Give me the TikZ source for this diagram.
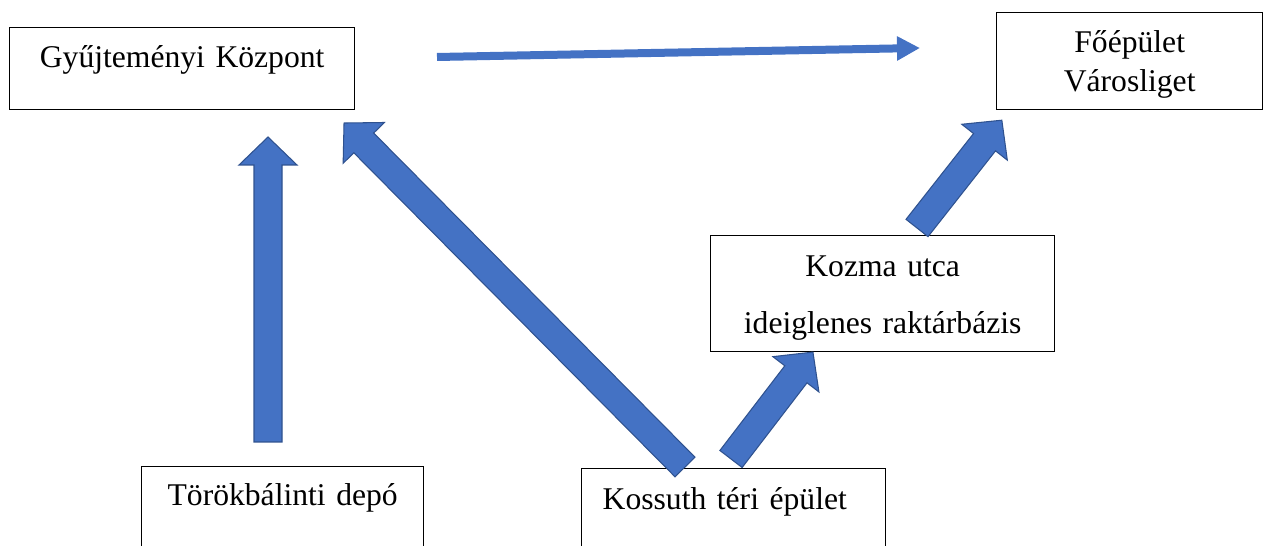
\documentclass[tikz,border=0pt]{standalone}
\usepackage{fontspec}
\setmainfont{Liberation Serif}
\usepackage{tikz}
\usetikzlibrary{arrows.meta,calc}
\definecolor{arrowblue}{HTML}{4472C4}
\definecolor{arrowedge}{HTML}{2F528F}
\tikzset{
  box/.style={draw, line width=0.8pt, inner sep=0pt, anchor=north west, align=center, font=\fontsize{18}{22}\selectfont},
  blockarrow/.style={fill=arrowblue, draw=arrowedge, line width=0.6pt, line join=miter},
  thinarrow/.style={draw=arrowblue, line width=0.16cm, -{Triangle[length=0.46cm,width=0.46cm]}},
  along/.style={shift={(\p1)}, rotate=\n1},
}
\newcommand\shaftw{0.28cm}
\newcommand\headw{0.58cm}
\newcommand\headl{0.56cm}
\newcommand\bigarrow[2]{%
  \draw[blockarrow] let \p1=(#1), \p2=(#2),
    \n1={atan2(\y2-\y1,\x2-\x1)}, \n2={veclen(\x2-\x1,\y2-\y1)} in
    ([along]0pt,-\shaftw) -- ([along]{\n2-\headl},-\shaftw)
    -- ([along]{\n2-\headl},-\headw) -- ([along]\n2,0pt)
    -- ([along]{\n2-\headl},\headw) -- ([along]{\n2-\headl},\shaftw)
    -- ([along]0pt,\shaftw) -- cycle;
}
\begin{document}
\begin{tikzpicture}[x=0.02cm,y=-0.02cm]
\useasboundingbox (0,0) rectangle (1264,546);
\clip (0,0) rectangle (1264,546);

\node[box, text width=6.9cm, text height=0.8cm, text depth=0.84cm] (gyujt) at (9,27) {Gyűjteményi Központ};
\node[box, text width=5.32cm, text height=0.8cm, text depth=1.14cm, font=\fontsize{18}{22.2}\selectfont] (foepulet) at (996,12) {Főépület\\Városliget};
\node[box, text width=6.88cm, text height=0.81cm, text depth=1.51cm, font=\fontsize{18}{32.4}\selectfont] (kozma) at (710,235) {Kozma utca\\ideiglenes raktárbázis};
\node[box, text width=5.64cm, text height=0.78cm, text depth=1.1cm] (torok) at (141,466) {Törökbálinti depó};
\node[box, text width=5.24cm, inner xsep=0.42cm, align=left, text height=0.82cm, text depth=1.02cm] (kossuth) at (581,468) {Kossuth téri épület};

\coordinate (thin-a) at (437,57);
\coordinate (thin-b) at (920,48);
\coordinate (torok-a) at (268,442);
\coordinate (torok-b) at (268,137);
\coordinate (kossuth-a) at (685,467);
\coordinate (kossuth-b) at (344,123);
\coordinate (kossuth-c) at (731,459);
\coordinate (kozma-b) at (813,352);
\coordinate (kozma-a) at (917,228);
\coordinate (foepulet-b) at (1002,120);

\draw[thinarrow] (thin-a) -- (thin-b);
\bigarrow{torok-a}{torok-b}
\bigarrow{kossuth-a}{kossuth-b}
\bigarrow{kossuth-c}{kozma-b}
\bigarrow{kozma-a}{foepulet-b}
\end{tikzpicture}
\end{document}
